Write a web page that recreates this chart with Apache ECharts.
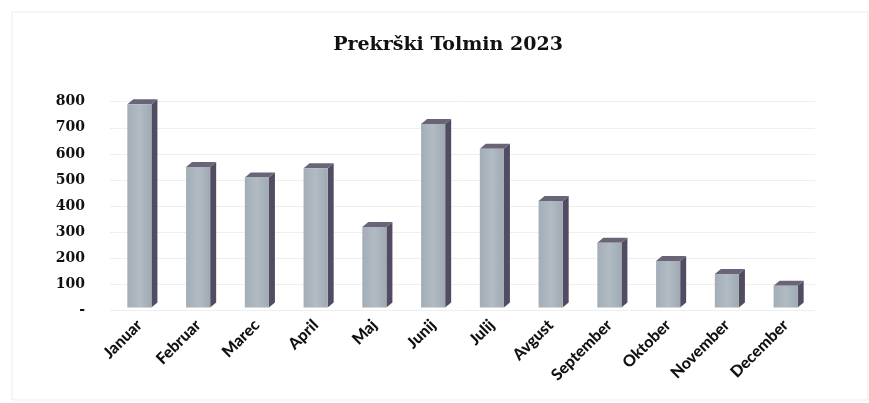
<!DOCTYPE html>
<html>
<head>
<meta charset="utf-8">
<script src="https://cdn.jsdelivr.net/npm/echarts@6/dist/echarts.min.js"></script>
<style>
html,body{margin:0;padding:0;background:#fff;}
#c{width:869px;height:403px;}
</style>
</head>
<body>
<div id="c"></div>
<script>
const titleText = 'Prekrški Tolmin 2023';
const months = ['Januar','Februar','Marec','April','Maj','Junij','Julij','Avgust','September','Oktober','November','December'];
const values = [790, 550, 510, 545, 320, 715, 620, 420, 260, 190, 140, 95];
const yTicks = [0, 100, 200, 300, 400, 500, 600, 700, 800];

const chart = echarts.init(document.getElementById('c'));

function renderBar(params, api) {
  const idx = api.value(0);
  const v = api.value(1);
  const top = api.coord([idx, v]);
  const base = api.coord([idx, 0]);
  const band = api.size([1, 0])[0];
  const w = band * 0.41;
  const d = 6, dy = 5;
  const x0 = top[0] - w / 2;
  const yt = top[1], yb = base[1] - 3;
  return {
    type: 'group',
    children: [
      { type: 'polygon', shape: { points: [[x0 + w, yt], [x0 + w + d, yt - dy], [x0 + w + d, yb - dy], [x0 + w, yb]] },
        style: { fill: '#524c62' } },
      { type: 'polygon', shape: { points: [[x0, yt], [x0 + d, yt - dy], [x0 + w + d, yt - dy], [x0 + w, yt]] },
        style: { fill: '#6a6478' } },
      { type: 'rect', shape: { x: x0, y: yt, width: w, height: yb - yt },
        style: { fill: new echarts.graphic.LinearGradient(0, 0, 1, 0, [
          { offset: 0, color: '#a3adb6' }, { offset: 0.5, color: '#b1bbc3' }, { offset: 1, color: '#a0aab3' }]) } }
    ]
  };
}

chart.setOption({
  backgroundColor: '#ffffff',
  animation: false,
  title: {
    text: titleText,
    left: 443, top: 31, textAlign: 'center',
    textStyle: { fontFamily: 'DejaVu Serif', fontWeight: 'bold', fontSize: 19, color: '#111111' }
  },
  graphic: [{
    type: 'rect', shape: { x: 12, y: 12, width: 856, height: 388 },
    style: { fill: 'none', stroke: '#ececec', lineWidth: 1 }
  }],
  grid: { left: 110, right: 54, top: 101.7, bottom: 92.5 },
  xAxis: {
    type: 'category',
    data: months,
    axisLine: { show: false },
    axisTick: { show: false },
    axisLabel: {
      interval: 0, rotate: 45, margin: 12,
      fontFamily: 'Lato', fontWeight: 900, fontSize: 16, color: '#111111'
    }
  },
  yAxis: {
    type: 'value',
    min: 0, max: 800, interval: 100,
    axisLine: { show: false },
    axisTick: { show: false },
    splitLine: { lineStyle: { color: '#eeeeee', width: 1 } },
    axisLabel: {
      margin: 25,
      fontFamily: 'DejaVu Serif', fontWeight: 'bold', fontSize: 14, color: '#111111',
      formatter: function (v) { return yTicks.indexOf(v) === 0 ? '-' : String(v); }
    }
  },
  series: [{
    type: 'custom',
    renderItem: renderBar,
    data: values.map((v, i) => [i, v]),
    encode: { x: 0, y: 1 }
  }]
});
</script>
</body>
</html>
